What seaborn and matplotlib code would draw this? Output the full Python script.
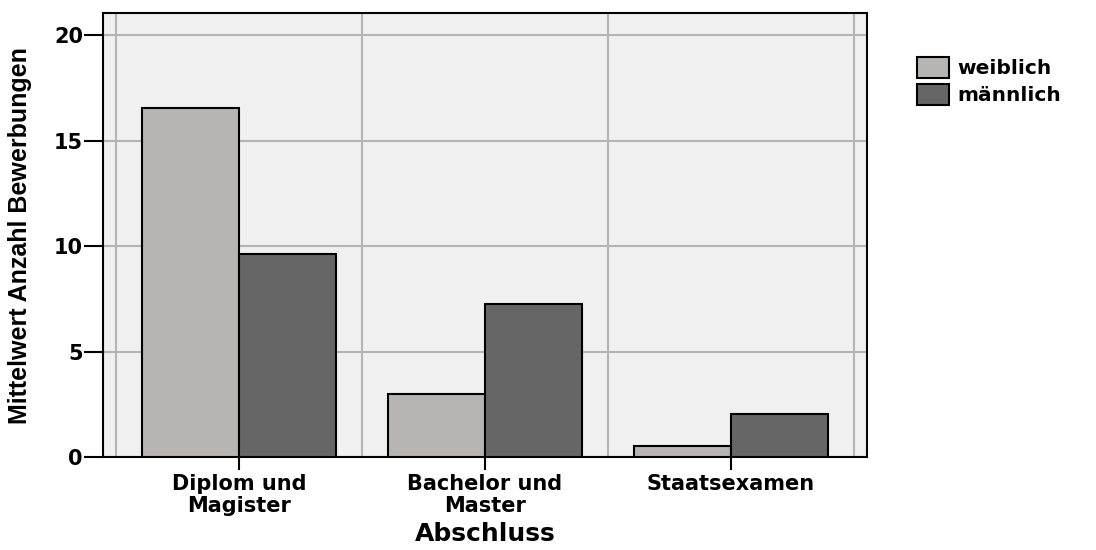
"""Mittelwert Anzahl Bewerbungen nach Abschluss und Geschlecht."""

import matplotlib

matplotlib.use("Agg")

import matplotlib.pyplot as plt
import pandas as pd
import seaborn as sns
from matplotlib import font_manager

categories = ["Diplom und\nMagister", "Bachelor und\nMaster", "Staatsexamen"]
groups = ["weiblich", "männlich"]
values_weiblich = [16.55, 3.0, 0.52]
values_maennlich = [9.65, 7.25, 2.02]
y_ticks = [0, 5, 10, 15, 20]

colors = {"weiblich": "#b8b4b3", "männlich": "#666666"}

frame = pd.DataFrame(
    {
        "Abschluss": categories * 2,
        "Geschlecht": [groups[0]] * 3 + [groups[1]] * 3,
        "Wert": values_weiblich + values_maennlich,
    }
)

sns.set_style("white")
plt.rcParams["font.family"] = ["DejaVu Sans"]
plt.rcParams["text.color"] = "black"
plt.rcParams["axes.labelcolor"] = "black"
plt.rcParams["xtick.color"] = "black"
plt.rcParams["ytick.color"] = "black"

# condensed font for the y label if one is around
installed = {f.name for f in font_manager.fontManager.ttflist}
if "Liberation Sans Narrow" in installed:
    ylabel_family, ylabel_size = "Liberation Sans Narrow", 21
else:
    ylabel_family, ylabel_size = "Liberation Sans", 18

fig = plt.figure(figsize=(10.96, 5.5), dpi=100)
ax = fig.add_axes([0.094, 0.169, 0.697, 0.807])
ax.set_facecolor("#f0f0f0")

sns.barplot(
    data=frame,
    x="Abschluss",
    y="Wert",
    hue="Geschlecht",
    palette=colors,
    width=0.79,
    edgecolor="black",
    linewidth=1.5,
    errorbar=None,
    ax=ax,
    zorder=3,
)

ax.set_xlim(-0.553, 2.553)
ax.set_ylim(0, 21.05)
ax.set_yticks(y_ticks)
ax.set_xticks(range(len(categories)))
ax.set_xticklabels(categories, fontweight="bold", linespacing=1.1)
ax.set_xticks([-0.5, 0.5, 1.5, 2.5], minor=True)
ax.grid(True, which="minor", axis="x", color="#b4b4b4", linewidth=1.5, zorder=0)
ax.grid(True, which="major", axis="y", color="#b4b4b4", linewidth=1.5, zorder=0)
ax.set_axisbelow(True)

for spine in ax.spines.values():
    spine.set_color("black")
    spine.set_linewidth(1.5)
    spine.set_visible(True)

ax.tick_params(axis="x", which="major", bottom=True, direction="out", length=9.5,
               width=1.5, pad=3, labelsize=15, labelcolor="black")
ax.tick_params(axis="y", which="major", left=True, direction="out", length=13.5,
               width=1.5, pad=1, labelsize=15, labelcolor="black")
ax.tick_params(axis="x", which="minor", length=0)
for label in ax.get_yticklabels():
    label.set_fontweight("bold")

ax.set_xlabel("Abschluss", fontsize=18, fontweight="bold", labelpad=4)
ax.set_ylabel(
    "Mittelwert Anzahl Bewerbungen",
    fontsize=ylabel_size,
    fontweight="bold",
    family=ylabel_family,
    labelpad=16,
)

handles, labels = ax.get_legend_handles_labels()
ax.legend(
    handles,
    labels,
    loc="upper left",
    bbox_to_anchor=(1.055, 0.919),
    frameon=False,
    prop={"weight": "bold", "size": 14.5},
    handlelength=1.6,
    handleheight=1.2,
    handletextpad=0.4,
    labelspacing=0.3,
    borderaxespad=0,
)

plt.savefig("out.png", dpi=100)
plt.close()
